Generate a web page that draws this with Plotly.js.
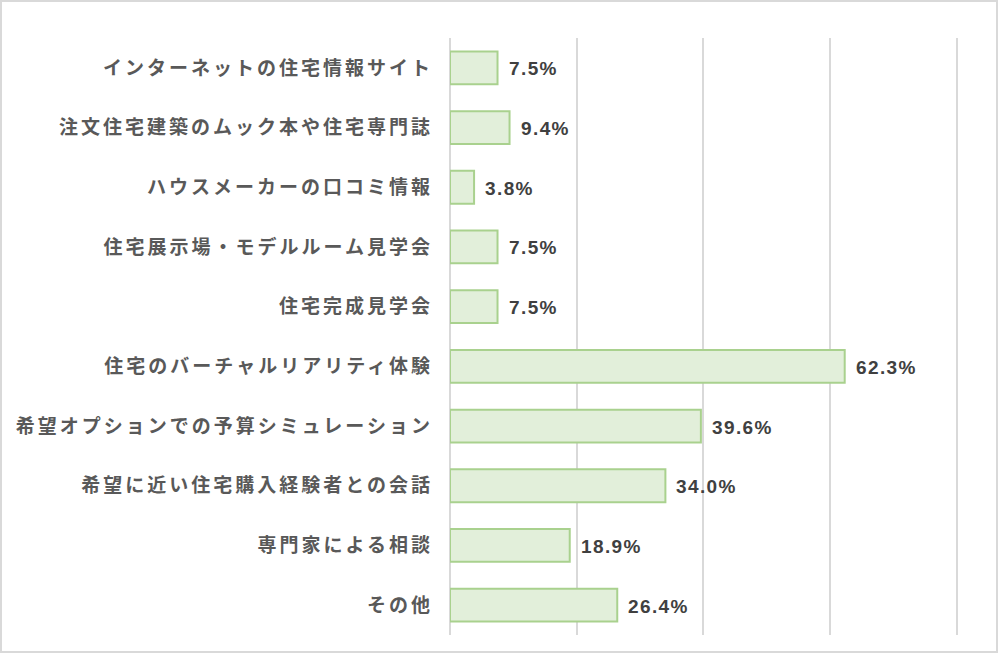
<!DOCTYPE html>
<html><head><meta charset="utf-8">
<script src="https://cdn.plot.ly/plotly-3.0.1.min.js"></script>
<style>
html,body{margin:0;padding:0;background:#fff;}
#chart{width:994px;height:649px;border:2px solid #d9d9d9;}
.ytick text{letter-spacing:3px;}
.annotation-text{letter-spacing:1.4px;}
</style></head>
<body><div id="chart"></div>
<script>
const categories = [
  "インターネットの住宅情報サイト",
  "注文住宅建築のムック本や住宅専門誌",
  "ハウスメーカーの口コミ情報",
  "住宅展示場・モデルルーム見学会",
  "住宅完成見学会",
  "住宅のバーチャルリアリティ体験",
  "希望オプションでの予算シミュレーション",
  "希望に近い住宅購入経験者との会話",
  "専門家による相談",
  "その他"
];
const values = [7.5, 9.4, 3.8, 7.5, 7.5, 62.3, 39.6, 34.0, 18.9, 26.4];
const labels = values.map(v => v.toFixed(1) + "%");

const annotations = values.map((v, i) => ({
  x: v, y: categories[i], xref: "x", yref: "y",
  text: labels[i], showarrow: false, xanchor: "left", yanchor: "middle",
  xshift: 9, yshift: -1,
  font: {family: "Liberation Sans, Arial, sans-serif", size: 19, color: "#404040", weight: "bold"}
}));

Plotly.newPlot("chart", [{
  type: "bar",
  orientation: "h",
  y: categories,
  x: values,
  marker: {color: "#e2efda", line: {color: "#a9d18e", width: 2}},
  hoverinfo: "none"
}], {
  width: 994, height: 649,
  margin: {l: 448, r: 36, t: 36, b: 16},
  paper_bgcolor: "#fff", plot_bgcolor: "#fff",
  bargap: 0.45,
  showlegend: false,
  annotations: annotations,
  xaxis: {range: [0, 80.5], dtick: 20, showticklabels: false, showgrid: true, gridcolor: "#d9d9d9", gridwidth: 2, zeroline: true, zerolinecolor: "#d9d9d9", zerolinewidth: 2, fixedrange: true},
  yaxis: {autorange: "reversed", showgrid: false, zeroline: false, ticks: "", ticklabelstandoff: 16,
    tickfont: {family: "Noto Sans CJK JP, sans-serif", size: 19, color: "#595959", weight: "bold"}, fixedrange: true}
}, {displayModeBar: false, staticPlot: true});
</script></body></html>
